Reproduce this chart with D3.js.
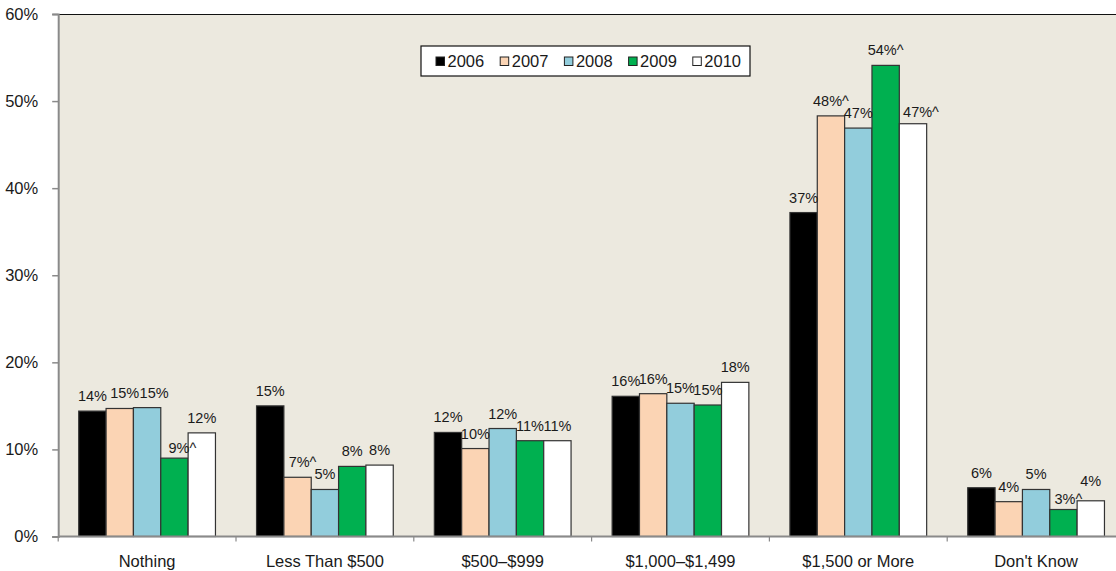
<!DOCTYPE html>
<html>
<head>
<meta charset="utf-8">
<script src="https://cdn.jsdelivr.net/npm/d3@7"></script>
<style>
  html, body { margin: 0; padding: 0; background: #fff; }
  svg { display: block; font-family: "Liberation Sans", Arial, Helvetica, sans-serif; }
</style>
</head>
<body>
<svg id="chart" width="1116" height="571"></svg>
<script>
// Spending categories along the x axis
const categories = ["Nothing", "Less Than $500", "$500–$999", "$1,000–$1,499", "$1,500 or More", "Don't Know"];

// Survey years (one bar per year in each category)
const years = ["2006", "2007", "2008", "2009", "2010"];

// Share of respondents (%) per year, in category order
const v2006 = [14.4, 15.0, 11.95, 16.1, 37.2, 5.6];
const v2007 = [14.7, 6.8, 10.1, 16.4, 48.3, 4.0];
const v2008 = [14.8, 5.4, 12.4, 15.3, 46.9, 5.4];
const v2009 = [9.0, 8.05, 11.0, 15.1, 54.1, 3.1];
const v2010 = [11.9, 8.2, 11.0, 17.7, 47.4, 4.1];

// Values flagged with "^" in the labels
const f2006 = [false, false, false, false, false, false];
const f2007 = [false, true, false, false, true, false];
const f2008 = [false, false, false, false, false, false];
const f2009 = [true, false, false, false, true, true];
const f2010 = [false, false, false, false, true, false];

// Y axis ticks (%)
const yTicks = [0, 10, 20, 30, 40, 50, 60];

(function () {
  const seriesValues = [v2006, v2007, v2008, v2009, v2010];
  const seriesFlags = [f2006, f2007, f2008, f2009, f2010];
  const colors = ["#000000", "#FBD4B4", "#92CDDC", "#00B050", "#FFFFFF"];

  // Hand-placed label nudges (dx, dy) for crowded spots
  const labelNudge = {
    "Nothing|2007": [5, 0],
    "Nothing|2008": [7, 0],
    "Nothing|2009": [8, 4.5],
    "Less Than $500|2007": [5, 0],
    "$1,500 or More|2010": [8, 3.5],
    "Don't Know|2009": [5, 4],
    "Don't Know|2010": [0, -4.5]
  };
  const nudge = d => labelNudge[d.category + "|" + d.year] || [0, 0];

  const rows = categories.map((c, i) => ({
    category: c,
    bars: years.map((yr, j) => ({ category: c, year: yr, value: seriesValues[j][i], flag: seriesFlags[j][i], color: colors[j] }))
  }));

  const svg = d3.select("#chart");
  const plotLeft = 58.2, plotTop = 14, plotBottom = 536.5;
  const plotW = 177.8 * categories.length; // plot runs slightly past the right edge
  const plotRight = plotLeft + plotW;

  const x0 = d3.scaleBand().domain(categories).range([plotLeft, plotRight]).paddingInner(0.231).paddingOuter(0.1155);
  const x1 = d3.scaleBand().domain(years).range([0, x0.bandwidth()]).padding(0);
  const y = d3.scaleLinear().domain([0, 60]).range([plotBottom, plotTop]);

  // Plot background
  svg.append("rect")
    .attr("x", plotLeft).attr("y", plotTop)
    .attr("width", plotW).attr("height", plotBottom - plotTop)
    .attr("fill", "#ECE9DF");

  // Top border
  svg.append("line")
    .attr("x1", plotLeft).attr("x2", plotRight)
    .attr("y1", plotTop + 0.5).attr("y2", plotTop + 0.5)
    .attr("stroke", "#111").attr("stroke-width", 1.2);

  // Y axis
  const yAxis = d3.axisLeft(y).tickValues(yTicks).tickFormat(d => d + "%").tickSize(6).tickPadding(14);
  const gy = svg.append("g").attr("transform", `translate(${plotLeft},0)`).call(yAxis);
  gy.select(".domain").attr("stroke", "#8a8a8a").attr("stroke-width", 2);
  gy.selectAll(".tick line").attr("stroke", "#8a8a8a").attr("stroke-width", 1.5);
  gy.selectAll(".tick text").attr("font-size", "16.5px").attr("fill", "#1a1a1a")
    .attr("font-family", "'Liberation Sans', Arial, sans-serif");

  // Bars
  const groups = svg.append("g").selectAll("g.cat")
    .data(rows).join("g")
    .attr("class", "cat")
    .attr("transform", d => `translate(${x0(d.category)},0)`);

  groups.selectAll("rect")
    .data(d => d.bars).join("rect")
    .attr("x", d => x1(d.year))
    .attr("y", d => y(d.value))
    .attr("width", x1.bandwidth())
    .attr("height", d => y(0) - y(d.value))
    .attr("fill", d => d.color)
    .attr("stroke", "#333")
    .attr("stroke-width", 1.2);

  // Value labels
  groups.selectAll("text.val")
    .data(d => d.bars).join("text")
    .attr("class", "val")
    .attr("text-anchor", "middle")
    .attr("font-size", "14.5px")
    .attr("fill", "#1a1a1a")
    .attr("x", d => x1(d.year) + x1.bandwidth() / 2 + nudge(d)[0])
    .attr("y", d => y(d.value) - 10 + nudge(d)[1])
    .text(d => Math.round(d.value) + "%" + (d.flag ? "^" : ""));

  // X axis (ticks at category boundaries)
  svg.append("line")
    .attr("x1", plotLeft).attr("x2", plotRight)
    .attr("y1", plotBottom).attr("y2", plotBottom)
    .attr("stroke", "#8a8a8a").attr("stroke-width", 2);

  const boundaries = d3.range(categories.length + 1).map(i => x0.range()[0] + i * x0.step());
  svg.append("g").selectAll("line")
    .data(boundaries).join("line")
    .attr("x1", d => d).attr("x2", d => d)
    .attr("y1", plotBottom).attr("y2", plotBottom + 5)
    .attr("stroke", "#8a8a8a").attr("stroke-width", 1.2);

  svg.append("g").selectAll("text")
    .data(categories).join("text")
    .attr("x", d => x0(d) + x0.bandwidth() / 2)
    .attr("y", 566.5)
    .attr("text-anchor", "middle")
    .attr("font-size", "16.5px")
    .attr("fill", "#1a1a1a")
    .text(d => d);

  // Legend
  const legend = svg.append("g").attr("transform", "translate(421,46)");
  legend.append("rect")
    .attr("x", 0).attr("y", 0).attr("width", 329).attr("height", 30)
    .attr("fill", "#fff").attr("stroke", "#111").attr("stroke-width", 1.2);

  const items = legend.selectAll("g.item")
    .data(years).join("g")
    .attr("class", "item")
    .attr("transform", (d, i) => `translate(${15 + i * 64.2},0)`);
  items.append("rect")
    .attr("x", 0).attr("y", 11).attr("width", 8.5).attr("height", 8.5)
    .attr("fill", (d, i) => colors[i]).attr("stroke", "#222").attr("stroke-width", 1);
  items.append("text")
    .attr("x", 11.5).attr("y", 21)
    .attr("font-size", "16.5px").attr("fill", "#1a1a1a")
    .text(d => d);
})();
</script>
</body>
</html>
